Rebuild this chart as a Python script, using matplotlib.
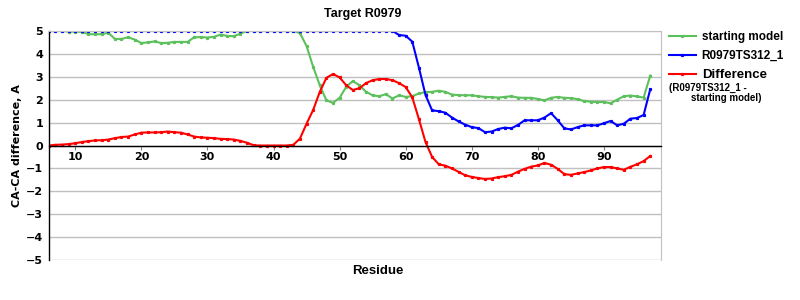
import matplotlib
matplotlib.use("Agg")
import matplotlib.pyplot as plt

residues = list(range(6, 98))

starting_model = [
    5.0, 5.0, 5.0, 4.97, 4.97, 4.96, 4.86, 4.85, 4.86, 4.92,
    4.65, 4.65, 4.72, 4.62, 4.47, 4.5, 4.54, 4.47, 4.48, 4.52,
    4.52, 4.52, 4.72, 4.73, 4.71, 4.74, 4.84, 4.78, 4.77, 4.88,
    5.0, 5.0, 5.0, 5.0, 5.0, 5.0, 5.0, 5.0, 4.9, 4.34,
    3.43, 2.63, 1.97, 1.86, 2.08, 2.56, 2.81, 2.63, 2.34, 2.19,
    2.15, 2.24, 2.05, 2.19, 2.12, 2.15, 2.27, 2.33, 2.34, 2.39,
    2.34, 2.22, 2.2, 2.19, 2.19, 2.15, 2.12, 2.11, 2.09, 2.12,
    2.15, 2.09, 2.08, 2.08, 2.03, 1.97, 2.08, 2.12, 2.08, 2.07,
    2.02, 1.94, 1.91, 1.9, 1.9, 1.84, 2.0, 2.15, 2.18, 2.14,
    2.09, 3.05,
]

model_ts312 = [
    5.0, 5.0, 5.0, 5.0, 5.0, 5.0, 5.0, 5.0, 5.0, 5.0,
    5.0, 5.0, 5.0, 5.0, 5.0, 5.0, 5.0, 5.0, 5.0, 5.0,
    5.0, 5.0, 5.0, 5.0, 5.0, 5.0, 5.0, 5.0, 5.0, 5.0,
    5.0, 5.0, 5.0, 5.0, 5.0, 5.0, 5.0, 5.0, 5.0, 5.0,
    5.0, 5.0, 5.0, 5.0, 5.0, 5.0, 5.0, 5.0, 5.0, 5.0,
    5.0, 5.0, 5.0, 4.82, 4.79, 4.53, 3.4, 2.2, 1.53, 1.5,
    1.43, 1.22, 1.05, 0.91, 0.8, 0.76, 0.58, 0.61, 0.72, 0.78,
    0.75, 0.9, 1.1, 1.1, 1.1, 1.22, 1.41, 1.1, 0.75, 0.7,
    0.8, 0.88, 0.88, 0.88, 0.97, 1.07, 0.88, 0.95, 1.17, 1.2,
    1.33, 2.45,
]

difference = [
    0.0, 0.03, 0.04, 0.06, 0.1, 0.15, 0.19, 0.22, 0.23, 0.26,
    0.32, 0.37, 0.39, 0.48, 0.56, 0.57, 0.57, 0.58, 0.61, 0.58,
    0.56, 0.48, 0.39, 0.35, 0.34, 0.32, 0.29, 0.28, 0.26, 0.2,
    0.12, 0.01, 0.0, 0.0, 0.0, 0.0, 0.0, 0.03, 0.3, 0.95,
    1.55, 2.34, 2.95, 3.12, 2.97, 2.63, 2.42, 2.5, 2.72, 2.85,
    2.9, 2.9, 2.85, 2.72, 2.55, 2.1, 1.15, 0.15, -0.5, -0.82,
    -0.88, -1.0, -1.15, -1.3, -1.37, -1.42, -1.46, -1.44, -1.38, -1.34,
    -1.28, -1.14, -1.02, -0.92, -0.87, -0.76, -0.84, -1.02, -1.25, -1.28,
    -1.22, -1.16, -1.09, -1.0, -0.94, -0.94, -1.0, -1.06, -0.93, -0.82,
    -0.68, -0.46,
]

x_ticks = [10, 20, 30, 40, 50, 60, 70, 80, 90]
y_ticks = [-5, -4, -3, -2, -1, 0, 1, 2, 3, 4, 5]

title = "Target R0979"
xlabel = "Residue"
ylabel = "CA-CA difference, A"
labels = ["starting model", "R0979TS312_1", "Difference"]
sub_label = "(R0979TS312_1 -\n        starting model)"

GREEN = "#5cc05c"
BLUE = "#0000ff"
RED = "#ff0000"

fig = plt.figure(figsize=(8, 3), dpi=100)
ax = fig.add_axes([0.061, 0.133, 0.765, 0.764])

kw = dict(linewidth=1.5, marker="s", markersize=1.3, clip_on=True)
ax.plot(residues, starting_model, color=GREEN, label=labels[0], **kw)
ax.plot(residues, model_ts312, color=BLUE, label=labels[1], **kw)
ax.plot(residues, difference, color=RED, label=labels[2], **kw)

ax.set_xlim(6, 98.6)
ax.set_ylim(-5, 5)
ax.set_yticks(y_ticks)
ax.set_yticklabels([("\u2212" + str(-v)) if v < 0 else str(v) for v in y_ticks])
ax.set_xticks(x_ticks)
ax.yaxis.grid(True, color="#c0c0c0", linewidth=1.0)
ax.set_axisbelow(True)

ax.spines["bottom"].set_position(("data", 0))
ax.spines["bottom"].set_color("black")
ax.spines["bottom"].set_linewidth(1.0)
ax.spines["left"].set_color("black")
ax.spines["left"].set_linewidth(1.0)
ax.spines["right"].set_color("#c0c0c0")
ax.spines["top"].set_color("#c0c0c0")

ax.tick_params(axis="x", direction="out", length=3, width=0.8, color="#808080", pad=2)
ax.tick_params(axis="y", length=0, pad=4)
for lab in ax.get_xticklabels() + ax.get_yticklabels():
    lab.set_fontfamily("DejaVu Sans")
    lab.set_fontweight("bold")
    lab.set_fontsize(8)

ax.set_ylabel(ylabel, fontfamily="DejaVu Sans", fontweight="bold", fontsize=8, labelpad=3)
fig.text(378 / 800, 1 - 271 / 300, xlabel, ha="center", va="center",
         fontfamily="Liberation Sans", fontweight="bold", fontsize=9.5)
fig.text(363 / 800, 1 - 14 / 300, title, ha="center", va="center",
         fontfamily="Liberation Sans", fontweight="bold", fontsize=9)

leg = ax.legend(loc="upper left", bbox_to_anchor=(1.005, 1.02), frameon=False,
                handlelength=2.3, handletextpad=0.5, labelspacing=0.6,
                borderaxespad=0.0,
                prop={"family": "Liberation Sans", "weight": "bold", "size": 8.5})
leg.get_texts()[2].set_fontsize(9.5)
fig.text(669 / 800, 1 - 93 / 300, sub_label, ha="left", va="center",
         fontfamily="Liberation Sans", fontweight="bold", fontsize=7,
         linespacing=1.1)

fig.savefig("out.png", dpi=100)
